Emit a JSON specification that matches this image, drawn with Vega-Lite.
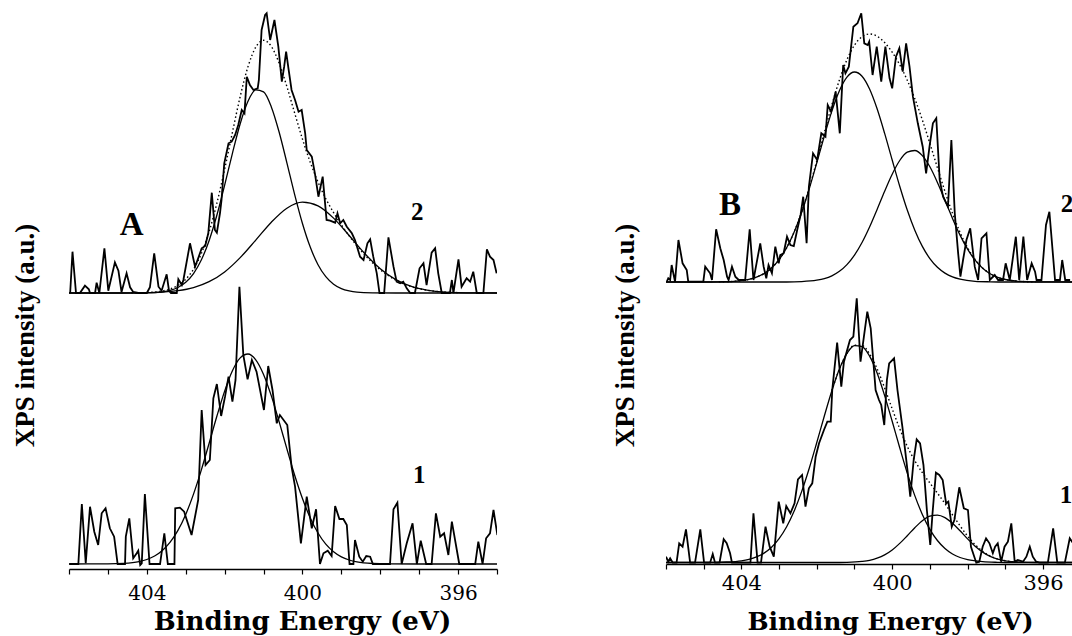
{
"$schema":"https://vega.github.io/schema/vega-lite/v6.json",
"background":"white",
"padding":{"left":11,"top":4,"right":0,"bottom":0},
"config":{"view":{"stroke":null},"axis":{"grid":false}},
"bounds":"flush",
"spacing":169,
"datasets":{
"A2":[{"x":405.97,"y":276},{"x":405.91,"y":317.3},{"x":405.82,"y":276},{"x":405.72,"y":276},{"x":405.59,"y":283.3},{"x":405.49,"y":279.7},{"x":405.46,"y":276},{"x":405.33,"y":276},{"x":405.29,"y":286.3},{"x":405.22,"y":276},{"x":405.09,"y":320.7},{"x":404.99,"y":278.3},{"x":404.82,"y":306.7},{"x":404.73,"y":298.3},{"x":404.65,"y":277},{"x":404.52,"y":295.7},{"x":404.43,"y":281.7},{"x":404.35,"y":277},{"x":404.22,"y":276},{"x":404.0,"y":276},{"x":403.92,"y":281.7},{"x":403.81,"y":315.7},{"x":403.7,"y":282.3},{"x":403.62,"y":278.3},{"x":403.49,"y":294.7},{"x":403.43,"y":278.3},{"x":403.38,"y":276},{"x":403.23,"y":276},{"x":403.19,"y":289.7},{"x":403.1,"y":284},{"x":403.06,"y":289},{"x":402.89,"y":325.7},{"x":402.76,"y":302.3},{"x":402.68,"y":310.7},{"x":402.59,"y":320.7},{"x":402.5,"y":323},{"x":402.42,"y":335.7},{"x":402.33,"y":376.3},{"x":402.25,"y":339},{"x":402.2,"y":336.3},{"x":402.12,"y":355.7},{"x":402.08,"y":369},{"x":402.01,"y":405.7},{"x":401.9,"y":425.7},{"x":401.82,"y":427.3},{"x":401.73,"y":434},{"x":401.65,"y":444},{"x":401.56,"y":459},{"x":401.49,"y":455.7},{"x":401.43,"y":492.3},{"x":401.35,"y":484},{"x":401.26,"y":479},{"x":401.15,"y":480.7},{"x":401.12,"y":489},{"x":401.05,"y":539},{"x":400.96,"y":554},{"x":400.92,"y":555.7},{"x":400.83,"y":529},{"x":400.72,"y":549},{"x":400.62,"y":522.3},{"x":400.53,"y":487.3},{"x":400.47,"y":502.3},{"x":400.42,"y":517.3},{"x":400.36,"y":500.7},{"x":400.28,"y":479},{"x":400.19,"y":469},{"x":400.1,"y":457.3},{"x":400.02,"y":459},{"x":399.93,"y":435.7},{"x":399.89,"y":419},{"x":399.76,"y":412.3},{"x":399.68,"y":395.7},{"x":399.59,"y":372.3},{"x":399.48,"y":392.3},{"x":399.38,"y":349},{"x":399.29,"y":348.3},{"x":399.16,"y":346.3},{"x":399.1,"y":355.7},{"x":399.03,"y":345.7},{"x":398.95,"y":349},{"x":398.86,"y":342.3},{"x":398.73,"y":335.7},{"x":398.65,"y":329},{"x":398.52,"y":312.3},{"x":398.43,"y":309},{"x":398.33,"y":325.7},{"x":398.26,"y":329.7},{"x":398.18,"y":312.3},{"x":398.09,"y":295.7},{"x":398.02,"y":276},{"x":397.9,"y":276},{"x":397.79,"y":331.7},{"x":397.66,"y":302.3},{"x":397.58,"y":287.3},{"x":397.49,"y":285.7},{"x":397.41,"y":287.3},{"x":397.32,"y":280.7},{"x":397.23,"y":276},{"x":397.11,"y":276},{"x":396.99,"y":300.7},{"x":396.89,"y":305.7},{"x":396.81,"y":284},{"x":396.68,"y":316.3},{"x":396.59,"y":320.7},{"x":396.51,"y":295.7},{"x":396.42,"y":276},{"x":396.21,"y":276},{"x":396.16,"y":289},{"x":396.12,"y":276},{"x":395.99,"y":309.7},{"x":395.91,"y":282.3},{"x":395.78,"y":290.7},{"x":395.69,"y":287.3},{"x":395.61,"y":297.3},{"x":395.52,"y":276},{"x":395.35,"y":276},{"x":395.26,"y":319.7},{"x":395.18,"y":312.3},{"x":395.09,"y":309},{"x":395.01,"y":295.7}],
"A2c1":[{"x":406,"y":276},{"x":404.4,"y":276},{"x":404.0,"y":276.2},{"x":403.6,"y":277.2},{"x":403.4,"y":278.6},{"x":403.2,"y":281.5},{"x":403.0,"y":286.7},{"x":402.8,"y":295.4},{"x":402.6,"y":309.0},{"x":402.4,"y":328.3},{"x":402.2,"y":353.7},{"x":402.0,"y":383.8},{"x":401.8,"y":415.7},{"x":401.6,"y":445.3},{"x":401.4,"y":467.8},{"x":401.2,"y":479.2},{"x":401.0,"y":477.1},{"x":400.8,"y":462.1},{"x":400.6,"y":437.0},{"x":400.4,"y":406.2},{"x":400.2,"y":374.4},{"x":400.0,"y":345.5},{"x":399.8,"y":321.9},{"x":399.6,"y":304.3},{"x":399.4,"y":292.3},{"x":399.2,"y":284.8},{"x":399.0,"y":280.4},{"x":398.8,"y":278.1},{"x":398.6,"y":276.9},{"x":398.2,"y":276.2},{"x":397.6,"y":276},{"x":395,"y":276}],
"A2c2":[{"x":406,"y":276},{"x":404.6,"y":276},{"x":404.0,"y":276.3},{"x":403.6,"y":276.9},{"x":403.2,"y":278.3},{"x":402.8,"y":281.4},{"x":402.4,"y":287.3},{"x":402.0,"y":297.1},{"x":401.6,"y":311.4},{"x":401.2,"y":328.9},{"x":400.8,"y":346.8},{"x":400.4,"y":360.8},{"x":400.0,"y":366.9},{"x":399.6,"y":363.2},{"x":399.2,"y":350.9},{"x":398.8,"y":333.5},{"x":398.4,"y":315.5},{"x":398.0,"y":300.3},{"x":397.6,"y":289.4},{"x":397.2,"y":282.6},{"x":396.8,"y":278.9},{"x":396.4,"y":277.1},{"x":396.0,"y":276.4},{"x":395.4,"y":276.1},{"x":395.0,"y":276}],
"A2env":[{"x":404.4,"y":276.1},{"x":404.0,"y":276.5},{"x":403.6,"y":278.0},{"x":403.4,"y":280.0},{"x":403.2,"y":283.6},{"x":403.0,"y":289.7},{"x":402.8,"y":299.8},{"x":402.6,"y":315.3},{"x":402.4,"y":337.1},{"x":402.2,"y":365.7},{"x":402.0,"y":399.8},{"x":401.8,"y":436.7},{"x":401.6,"y":472.5},{"x":401.4,"y":502.3},{"x":401.2,"y":521.8},{"x":401.0,"y":528.7},{"x":400.8,"y":522.6},{"x":400.6,"y":505.9},{"x":400.4,"y":482.4},{"x":400.2,"y":455.9},{"x":400.0,"y":430.0},{"x":399.8,"y":406.8},{"x":399.6,"y":387.0},{"x":399.4,"y":370.3},{"x":399.2,"y":356.4},{"x":399.0,"y":344.1},{"x":398.8,"y":333.2},{"x":398.6,"y":323.2},{"x":398.4,"y":314.2},{"x":398.2,"y":306.3},{"x":398.0,"y":299.3},{"x":397.6,"y":288.9},{"x":397.2,"y":282.3},{"x":396.8,"y":278.8},{"x":396.4,"y":277.1},{"x":396.0,"y":276.4}],
"A1":[{"x":405.99,"y":5},{"x":405.76,"y":5},{"x":405.67,"y":65},{"x":405.57,"y":5.7},{"x":405.46,"y":62.3},{"x":405.35,"y":37.3},{"x":405.25,"y":24},{"x":405.16,"y":55.7},{"x":405.06,"y":60.7},{"x":404.95,"y":40.7},{"x":404.84,"y":32.3},{"x":404.75,"y":5},{"x":404.56,"y":5},{"x":404.54,"y":32.3},{"x":404.45,"y":50.7},{"x":404.35,"y":10.7},{"x":404.26,"y":15.7},{"x":404.22,"y":18.3},{"x":404.17,"y":4},{"x":404.13,"y":5.7},{"x":404.05,"y":75},{"x":403.93,"y":5},{"x":403.66,"y":5},{"x":403.55,"y":35.7},{"x":403.46,"y":5},{"x":403.29,"y":5},{"x":403.27,"y":60.7},{"x":403.15,"y":61.3},{"x":403.04,"y":57.3},{"x":402.85,"y":34},{"x":402.68,"y":69},{"x":402.59,"y":159},{"x":402.49,"y":104},{"x":402.38,"y":109},{"x":402.29,"y":170.7},{"x":402.2,"y":185},{"x":402.09,"y":153},{"x":401.99,"y":172.3},{"x":401.9,"y":192.3},{"x":401.8,"y":167.3},{"x":401.72,"y":189},{"x":401.62,"y":282.3},{"x":401.52,"y":214},{"x":401.41,"y":189.7},{"x":401.3,"y":209},{"x":401.18,"y":197.3},{"x":400.99,"y":159},{"x":400.88,"y":203},{"x":400.77,"y":179},{"x":400.66,"y":145.7},{"x":400.58,"y":154},{"x":400.39,"y":144},{"x":400.28,"y":102.3},{"x":400.19,"y":82.3},{"x":400.04,"y":25.7},{"x":399.89,"y":72.3},{"x":399.76,"y":40.7},{"x":399.65,"y":59.7},{"x":399.55,"y":5},{"x":399.46,"y":15.7},{"x":399.35,"y":18.3},{"x":399.25,"y":13},{"x":399.16,"y":63},{"x":399.05,"y":50},{"x":398.95,"y":50},{"x":398.86,"y":44},{"x":398.79,"y":5},{"x":398.69,"y":5},{"x":398.65,"y":29},{"x":398.54,"y":12.3},{"x":398.45,"y":7.3},{"x":398.36,"y":13},{"x":398.26,"y":12.3},{"x":398.19,"y":5},{"x":397.75,"y":5},{"x":397.66,"y":59.7},{"x":397.56,"y":66.3},{"x":397.45,"y":5},{"x":397.32,"y":25.7},{"x":397.17,"y":45.7},{"x":397.06,"y":5},{"x":396.96,"y":28.3},{"x":396.82,"y":5},{"x":396.68,"y":5},{"x":396.57,"y":55.7},{"x":396.46,"y":32.3},{"x":396.36,"y":35.7},{"x":396.25,"y":14},{"x":396.16,"y":47.3},{"x":395.97,"y":5},{"x":395.56,"y":5},{"x":395.48,"y":27.3},{"x":395.37,"y":5},{"x":395.28,"y":30.7},{"x":395.18,"y":35.7},{"x":395.09,"y":59},{"x":394.99,"y":34}],
"A1fit":[{"x":406,"y":5},{"x":405.0,"y":5.1},{"x":404.6,"y":5.6},{"x":404.2,"y":7.4},{"x":404.0,"y":9.5},{"x":403.8,"y":13.0},{"x":403.6,"y":18.5},{"x":403.4,"y":26.8},{"x":403.2,"y":38.6},{"x":403.0,"y":54.6},{"x":402.8,"y":74.9},{"x":402.6,"y":98.9},{"x":402.4,"y":125.5},{"x":402.2,"y":152.7},{"x":402.0,"y":177.9},{"x":401.8,"y":198.2},{"x":401.6,"y":211.1},{"x":401.4,"y":215.0},{"x":401.2,"y":209.2},{"x":401.0,"y":194.6},{"x":400.8,"y":173.1},{"x":400.6,"y":147.4},{"x":400.4,"y":120.1},{"x":400.2,"y":93.8},{"x":400.0,"y":70.5},{"x":399.8,"y":51.1},{"x":399.6,"y":36.0},{"x":399.4,"y":24.8},{"x":399.2,"y":17.2},{"x":399.0,"y":12.1},{"x":398.8,"y":9.0},{"x":398.6,"y":7.1},{"x":398.2,"y":5.5},{"x":397.8,"y":5.1},{"x":397.0,"y":5},{"x":395,"y":5}],
"B2":[{"x":405.98,"y":282.3},{"x":405.94,"y":285.7},{"x":405.89,"y":284},{"x":405.85,"y":299},{"x":405.76,"y":282.3},{"x":405.67,"y":324},{"x":405.56,"y":300.7},{"x":405.45,"y":294},{"x":405.41,"y":282.3},{"x":405.01,"y":282.3},{"x":404.96,"y":297.3},{"x":404.83,"y":290.7},{"x":404.78,"y":284},{"x":404.67,"y":334.7},{"x":404.56,"y":315.7},{"x":404.47,"y":304},{"x":404.38,"y":287.3},{"x":404.34,"y":284},{"x":404.25,"y":297.3},{"x":404.16,"y":287.3},{"x":404.07,"y":284},{"x":403.9,"y":284},{"x":403.78,"y":334.7},{"x":403.68,"y":284},{"x":403.59,"y":302.3},{"x":403.5,"y":320.7},{"x":403.41,"y":297.3},{"x":403.34,"y":285.7},{"x":403.28,"y":299},{"x":403.19,"y":290.7},{"x":403.1,"y":317.3},{"x":403.01,"y":300.7},{"x":402.97,"y":309},{"x":402.88,"y":310.7},{"x":402.79,"y":327.3},{"x":402.7,"y":319},{"x":402.61,"y":318},{"x":402.52,"y":334},{"x":402.43,"y":349},{"x":402.36,"y":367.3},{"x":402.27,"y":320.7},{"x":402.21,"y":377.3},{"x":402.1,"y":410.7},{"x":401.99,"y":404},{"x":401.88,"y":430.7},{"x":401.77,"y":427.3},{"x":401.71,"y":459},{"x":401.62,"y":452.3},{"x":401.5,"y":472.3},{"x":401.39,"y":430.7},{"x":401.3,"y":499},{"x":401.24,"y":490.7},{"x":401.15,"y":497.3},{"x":401.03,"y":537.3},{"x":400.92,"y":540.7},{"x":400.82,"y":550.7},{"x":400.74,"y":520.7},{"x":400.65,"y":519},{"x":400.61,"y":522.3},{"x":400.52,"y":489},{"x":400.41,"y":517.3},{"x":400.29,"y":482.3},{"x":400.18,"y":517.3},{"x":400.07,"y":485.7},{"x":400.0,"y":475.7},{"x":399.9,"y":507.3},{"x":399.81,"y":515.7},{"x":399.72,"y":492.3},{"x":399.63,"y":520.7},{"x":399.54,"y":497.3},{"x":399.45,"y":467.3},{"x":399.32,"y":440.7},{"x":399.19,"y":417.3},{"x":399.1,"y":390.7},{"x":399.01,"y":417.3},{"x":398.92,"y":440.7},{"x":398.83,"y":445.7},{"x":398.74,"y":384},{"x":398.65,"y":367.3},{"x":398.52,"y":357.3},{"x":398.43,"y":424},{"x":398.34,"y":350.7},{"x":398.25,"y":310.7},{"x":398.19,"y":287.3},{"x":398.12,"y":304},{"x":398.03,"y":324},{"x":397.93,"y":335.7},{"x":397.81,"y":297.3},{"x":397.72,"y":284},{"x":397.63,"y":325.7},{"x":397.5,"y":330.7},{"x":397.41,"y":284},{"x":397.28,"y":289},{"x":397.19,"y":284},{"x":397.06,"y":284},{"x":396.99,"y":300.7},{"x":396.88,"y":284},{"x":396.72,"y":327.3},{"x":396.63,"y":284},{"x":396.52,"y":327.3},{"x":396.42,"y":284},{"x":396.3,"y":300.7},{"x":396.21,"y":292.3},{"x":396.17,"y":284},{"x":396.04,"y":284},{"x":395.92,"y":339},{"x":395.83,"y":352.3},{"x":395.68,"y":284},{"x":395.55,"y":284},{"x":395.49,"y":304},{"x":395.41,"y":284},{"x":395.28,"y":284}],
"B2c1":[{"x":406,"y":282},{"x":405.0,"y":282},{"x":404.6,"y":282.2},{"x":404.2,"y":282.7},{"x":403.8,"y":284.6},{"x":403.6,"y":286.8},{"x":403.4,"y":290.4},{"x":403.2,"y":296.0},{"x":403.0,"y":304.4},{"x":402.8,"y":316.2},{"x":402.6,"y":332.0},{"x":402.4,"y":351.8},{"x":402.2,"y":375.3},{"x":402.0,"y":401.3},{"x":401.8,"y":428.0},{"x":401.6,"y":452.9},{"x":401.4,"y":473.3},{"x":401.2,"y":486.9},{"x":401.0,"y":492.0},{"x":400.8,"y":487.8},{"x":400.6,"y":475.0},{"x":400.4,"y":455.2},{"x":400.2,"y":430.6},{"x":400.0,"y":404.0},{"x":399.8,"y":377.8},{"x":399.6,"y":354.0},{"x":399.4,"y":333.8},{"x":399.2,"y":317.6},{"x":399.0,"y":305.4},{"x":398.8,"y":296.7},{"x":398.6,"y":290.9},{"x":398.4,"y":287.1},{"x":398.2,"y":284.8},{"x":397.8,"y":282.7},{"x":397.4,"y":282.2},{"x":397.0,"y":282},{"x":395,"y":282}],
"B2c2":[{"x":406,"y":282},{"x":402.8,"y":282},{"x":402.4,"y":282.4},{"x":402.0,"y":283.8},{"x":401.8,"y":285.4},{"x":401.6,"y":288.2},{"x":401.4,"y":292.7},{"x":401.2,"y":299.4},{"x":401.0,"y":308.9},{"x":400.8,"y":321.5},{"x":400.6,"y":337.0},{"x":400.4,"y":354.6},{"x":400.2,"y":372.8},{"x":400.0,"y":389.8},{"x":399.8,"y":403.5},{"x":399.6,"y":411.8},{"x":399.4,"y":413.5},{"x":399.2,"y":408.4},{"x":399.0,"y":397.2},{"x":398.8,"y":381.6},{"x":398.6,"y":363.7},{"x":398.4,"y":345.6},{"x":398.2,"y":328.9},{"x":398.0,"y":314.8},{"x":397.8,"y":303.8},{"x":397.6,"y":295.7},{"x":397.4,"y":290.2},{"x":397.2,"y":286.6},{"x":397.0,"y":284.5},{"x":396.6,"y":282.6},{"x":396.2,"y":282.1},{"x":395,"y":282}],
"B2env":[{"x":404.6,"y":282.2},{"x":404.2,"y":282.7},{"x":403.8,"y":284.6},{"x":403.6,"y":286.8},{"x":403.4,"y":290.4},{"x":403.2,"y":296.0},{"x":403.0,"y":304.4},{"x":402.8,"y":316.2},{"x":402.6,"y":332.1},{"x":402.4,"y":352.2},{"x":402.2,"y":376.2},{"x":402.0,"y":403.1},{"x":401.8,"y":431.4},{"x":401.6,"y":459.1},{"x":401.4,"y":484.0},{"x":401.2,"y":504.3},{"x":401.0,"y":518.9},{"x":400.8,"y":527.3},{"x":400.6,"y":530.0},{"x":400.4,"y":527.8},{"x":400.2,"y":521.4},{"x":400.0,"y":511.8},{"x":399.8,"y":499.3},{"x":399.6,"y":483.8},{"x":399.4,"y":465.3},{"x":399.2,"y":444.0},{"x":399.0,"y":420.6},{"x":398.8,"y":396.3},{"x":398.6,"y":372.6},{"x":398.4,"y":350.7},{"x":398.2,"y":331.7},{"x":398.0,"y":316.3},{"x":397.8,"y":304.5},{"x":397.6,"y":296.1},{"x":397.4,"y":290.4},{"x":397.2,"y":286.6},{"x":397.0,"y":284.5},{"x":396.6,"y":282.6},{"x":396.2,"y":282.1}],
"B1":[{"x":406.0,"y":7.3},{"x":405.94,"y":2.3},{"x":405.89,"y":5.7},{"x":405.82,"y":1.3},{"x":405.72,"y":1.3},{"x":405.65,"y":20.7},{"x":405.56,"y":17.3},{"x":405.47,"y":34.7},{"x":405.36,"y":1.3},{"x":405.23,"y":1.3},{"x":405.09,"y":34.7},{"x":404.99,"y":1.3},{"x":404.83,"y":1.3},{"x":404.76,"y":10},{"x":404.7,"y":1.3},{"x":404.58,"y":1.3},{"x":404.47,"y":24.7},{"x":404.39,"y":20.7},{"x":404.3,"y":10.7},{"x":404.25,"y":1.3},{"x":403.76,"y":1.3},{"x":403.68,"y":50.7},{"x":403.57,"y":1.3},{"x":403.48,"y":1.3},{"x":403.36,"y":37.3},{"x":403.25,"y":17.3},{"x":403.14,"y":7.3},{"x":403.01,"y":62.3},{"x":402.89,"y":40.7},{"x":402.81,"y":58},{"x":402.7,"y":50.7},{"x":402.59,"y":60.7},{"x":402.5,"y":84.7},{"x":402.39,"y":89},{"x":402.3,"y":57.3},{"x":402.21,"y":75.7},{"x":402.12,"y":80.7},{"x":402.03,"y":107.3},{"x":401.94,"y":120.7},{"x":401.81,"y":134},{"x":401.72,"y":142.3},{"x":401.63,"y":142.3},{"x":401.59,"y":174},{"x":401.46,"y":221.3},{"x":401.35,"y":177.3},{"x":401.28,"y":202.3},{"x":401.12,"y":224},{"x":401.03,"y":227.3},{"x":400.94,"y":265.7},{"x":400.84,"y":202.3},{"x":400.75,"y":227.3},{"x":400.66,"y":252.3},{"x":400.57,"y":235.7},{"x":400.44,"y":174},{"x":400.35,"y":164},{"x":400.29,"y":159},{"x":400.21,"y":139},{"x":400.14,"y":184},{"x":400.08,"y":200.7},{"x":399.95,"y":205.7},{"x":399.86,"y":174},{"x":399.73,"y":137.3},{"x":399.59,"y":92.3},{"x":399.52,"y":67.3},{"x":399.43,"y":104},{"x":399.35,"y":124.7},{"x":399.26,"y":120.7},{"x":399.17,"y":99},{"x":399.08,"y":54},{"x":398.99,"y":19},{"x":398.93,"y":50.7},{"x":398.84,"y":91.3},{"x":398.75,"y":89},{"x":398.66,"y":84},{"x":398.57,"y":60.7},{"x":398.51,"y":62.3},{"x":398.42,"y":37.3},{"x":398.35,"y":44},{"x":398.22,"y":76.7},{"x":398.1,"y":55.7},{"x":397.99,"y":54},{"x":397.91,"y":17.3},{"x":397.77,"y":1.3},{"x":397.69,"y":2.3},{"x":397.6,"y":17.3},{"x":397.51,"y":25.7},{"x":397.42,"y":20.7},{"x":397.33,"y":10.7},{"x":397.27,"y":17.3},{"x":397.2,"y":20.7},{"x":397.11,"y":2.3},{"x":397.02,"y":17.3},{"x":396.93,"y":22.3},{"x":396.84,"y":40.7},{"x":396.75,"y":2.3},{"x":396.67,"y":4},{"x":396.53,"y":2.3},{"x":396.44,"y":7.3},{"x":396.35,"y":17.3},{"x":396.27,"y":7.3},{"x":396.18,"y":2.3},{"x":396.09,"y":1.3},{"x":395.87,"y":1.3},{"x":395.73,"y":35.7},{"x":395.62,"y":1.3},{"x":395.42,"y":1.3},{"x":395.29,"y":25.7},{"x":395.2,"y":20.7}],
"B1c1":[{"x":406,"y":1.5},{"x":405.0,"y":1.5},{"x":404.4,"y":2.0},{"x":404.0,"y":3.2},{"x":403.8,"y":4.7},{"x":403.6,"y":7.1},{"x":403.4,"y":10.9},{"x":403.2,"y":16.8},{"x":403.0,"y":25.4},{"x":402.8,"y":37.3},{"x":402.6,"y":53.0},{"x":402.4,"y":72.6},{"x":402.2,"y":95.8},{"x":402.0,"y":121.5},{"x":401.8,"y":148.0},{"x":401.6,"y":173.3},{"x":401.4,"y":194.9},{"x":401.2,"y":210.5},{"x":401.0,"y":218.3},{"x":400.8,"y":217.4},{"x":400.6,"y":207.9},{"x":400.4,"y":191.0},{"x":400.2,"y":168.4},{"x":400.0,"y":142.7},{"x":399.8,"y":116.2},{"x":399.6,"y":90.9},{"x":399.4,"y":68.4},{"x":399.2,"y":49.6},{"x":399.0,"y":34.7},{"x":398.8,"y":23.5},{"x":398.6,"y":15.5},{"x":398.4,"y":10.0},{"x":398.2,"y":6.5},{"x":398.0,"y":4.3},{"x":397.6,"y":2.3},{"x":397.2,"y":1.7},{"x":396.8,"y":1.5},{"x":395,"y":1.5}],
"B1c2":[{"x":406,"y":1.5},{"x":401.6,"y":1.5},{"x":401.2,"y":1.7},{"x":400.8,"y":2.6},{"x":400.6,"y":3.7},{"x":400.4,"y":5.8},{"x":400.2,"y":9.1},{"x":400.0,"y":14.0},{"x":399.8,"y":20.6},{"x":399.6,"y":28.3},{"x":399.4,"y":36.3},{"x":399.2,"y":43.3},{"x":399.0,"y":47.8},{"x":398.8,"y":48.9},{"x":398.6,"y":46.4},{"x":398.4,"y":40.7},{"x":398.2,"y":33.2},{"x":398.0,"y":25.1},{"x":397.8,"y":17.8},{"x":397.6,"y":11.9},{"x":397.4,"y":7.6},{"x":397.2,"y":4.8},{"x":397.0,"y":3.2},{"x":396.6,"y":1.8},{"x":396.2,"y":1.5},{"x":395,"y":1.5}],
"B1env":[{"x":401.6,"y":173.3},{"x":401.4,"y":195.0},{"x":401.2,"y":210.7},{"x":401.0,"y":218.8},{"x":400.8,"y":218.5},{"x":400.6,"y":210.1},{"x":400.4,"y":195.3},{"x":400.2,"y":176.0},{"x":400.0,"y":155.2},{"x":399.8,"y":135.3},{"x":399.6,"y":117.7},{"x":399.4,"y":103.2},{"x":399.2,"y":91.4},{"x":399.0,"y":81.0},{"x":398.8,"y":70.9},{"x":398.6,"y":60.4},{"x":398.4,"y":49.2},{"x":398.2,"y":38.2},{"x":398.0,"y":27.9},{"x":397.8,"y":19.3},{"x":397.6,"y":12.7},{"x":397.4,"y":8.0},{"x":397.2,"y":5.0},{"x":397.0,"y":3.3},{"x":396.6,"y":1.8}]
},
"hconcat":[
{
"width":428,"height":565,
"encoding":{
"x":{"field":"x","type":"quantitative","scale":{"domain":[395,406],"reverse":true,"nice":false,"zero":false},
"axis":{"values":[395,396,397,398,399,400,401,402,403,404,405,406],"labelExpr":"datum.value % 4 === 0 ? datum.label : ''","domainColor":"black","domainWidth":1.5,"tickColor":"black","tickWidth":1.2,"tickSize":5,"labelFont":"DejaVu Serif","labelFontSize":20,"labelColor":"black","labelPadding":9,"title":"Binding Energy (eV)","titleFont":"DejaVu Serif","titleFontSize":26,"titleFontWeight":"bold","titleColor":"black","titleX":233,"titleY":60,"titleAlign":"center","titleBaseline":"alphabetic"}},
"y":{"field":"y","type":"quantitative","scale":{"domain":[0,565],"nice":false,"zero":false},
"axis":{"domain":false,"ticks":false,"labels":false,"title":"XPS intensity (a.u.)","titleFont":"Liberation Serif","titleFontSize":27,"titleFontWeight":"bold","titleColor":"black","titleAngle":-90,"titleX":-44,"titleY":331,"titleAlign":"center","titleBaseline":"middle"}}
},
"layer":[
{"data":{"name":"A2c1"},"mark":{"type":"line","color":"black","strokeWidth":1.3,"interpolate":"monotone","clip":true}},
{"data":{"name":"A2c2"},"mark":{"type":"line","color":"black","strokeWidth":1.3,"interpolate":"monotone","clip":true}},
{"data":{"name":"A2env"},"mark":{"type":"line","color":"black","strokeWidth":1.4,"strokeDash":[1.5,2.5],"interpolate":"monotone","clip":true}},
{"data":{"name":"A2"},"mark":{"type":"line","color":"black","strokeWidth":1.8,"clip":true}},
{"data":{"name":"A1fit"},"mark":{"type":"line","color":"black","strokeWidth":1.3,"interpolate":"monotone","clip":true}},
{"data":{"name":"A1"},"mark":{"type":"line","color":"black","strokeWidth":1.8,"clip":true}},
{"data":{"values":[{"x":404.39,"y":344,"t":"A"}]},"mark":{"type":"text","font":"Liberation Serif","fontWeight":"bold","fontSize":33,"color":"black","align":"center","baseline":"middle"},"encoding":{"text":{"field":"t"}}},
{"data":{"values":[{"x":397.05,"y":357,"t":"2"},{"x":397.0,"y":94,"t":"1"}]},"mark":{"type":"text","font":"Liberation Serif","fontWeight":"bold","fontSize":25,"color":"black","align":"center","baseline":"middle"},"encoding":{"text":{"field":"t"}}}
]
},
{
"width":406,"height":560,
"encoding":{
"x":{"field":"x","type":"quantitative","scale":{"domain":[395.23,406],"reverse":true,"nice":false,"zero":false},
"axis":{"values":[396,397,398,399,400,401,402,403,404,405,406],"labelExpr":"datum.value % 4 === 0 ? datum.label : ''","domainColor":"black","domainWidth":1.5,"tickColor":"black","tickWidth":1.2,"tickSize":5,"labelFont":"DejaVu Serif","labelFontSize":21,"labelColor":"black","labelPadding":3,"title":"Binding Energy (eV)","titleFont":"DejaVu Serif","titleFontSize":25,"titleFontWeight":"bold","titleColor":"black","titleX":224,"titleY":65.5,"titleAlign":"center","titleBaseline":"alphabetic"}},
"y":{"field":"y","type":"quantitative","scale":{"domain":[0,560],"nice":false,"zero":false},
"axis":{"domain":false,"ticks":false,"labels":false,"title":"XPS intensity (a.u.)","titleFont":"Liberation Serif","titleFontSize":27,"titleFontWeight":"bold","titleColor":"black","titleAngle":-90,"titleX":-41,"titleY":331,"titleAlign":"center","titleBaseline":"middle"}}
},
"layer":[
{"data":{"name":"B2c1"},"mark":{"type":"line","color":"black","strokeWidth":1.3,"interpolate":"monotone","clip":true}},
{"data":{"name":"B2c2"},"mark":{"type":"line","color":"black","strokeWidth":1.3,"interpolate":"monotone","clip":true}},
{"data":{"name":"B2env"},"mark":{"type":"line","color":"black","strokeWidth":1.4,"strokeDash":[1.5,2.5],"interpolate":"monotone","clip":true}},
{"data":{"name":"B2"},"mark":{"type":"line","color":"black","strokeWidth":1.8,"clip":true}},
{"data":{"name":"B1c1"},"mark":{"type":"line","color":"black","strokeWidth":1.3,"interpolate":"monotone","clip":true}},
{"data":{"name":"B1c2"},"mark":{"type":"line","color":"black","strokeWidth":1.3,"interpolate":"monotone","clip":true}},
{"data":{"name":"B1env"},"mark":{"type":"line","color":"black","strokeWidth":1.4,"strokeDash":[1.5,2.5],"interpolate":"monotone","clip":true}},
{"data":{"name":"B1"},"mark":{"type":"line","color":"black","strokeWidth":1.8,"clip":true}},
{"data":{"values":[{"x":404.3,"y":359,"t":"B"}]},"mark":{"type":"text","font":"Liberation Serif","fontWeight":"bold","fontSize":33,"color":"black","align":"center","baseline":"middle"},"encoding":{"text":{"field":"t"}}},
{"data":{"values":[{"x":395.36,"y":360,"t":"2"},{"x":395.39,"y":69,"t":"1"}]},"mark":{"type":"text","font":"Liberation Serif","fontWeight":"bold","fontSize":25,"color":"black","align":"center","baseline":"middle","clip":true},"encoding":{"text":{"field":"t"}}}
]
}
]
}
